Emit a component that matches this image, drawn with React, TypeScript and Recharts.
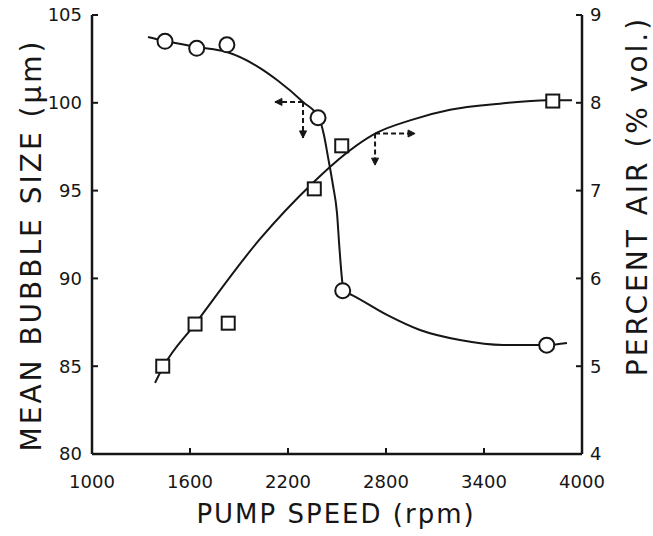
import React from 'react';
import {
  ComposedChart,
  Line,
  Scatter,
  XAxis,
  YAxis,
  ReferenceLine,
  ReferenceDot,
} from 'recharts';

// ---- tick labels ----
const speedTicks = [1000, 1600, 2200, 2800, 3400, 4000];
const topSpeedTicks = [1600, 3400];
const bubbleTicks = [80, 85, 90, 95, 100, 105];
const airTicks = [4, 5, 6, 7, 8, 9];

// ---- measured points ----
const bubbleSpeed = [1447, 1641, 1826, 2384, 2535, 3784];
const bubbleSize = [103.5, 103.1, 103.3, 99.15, 89.3, 86.2];

const airSpeed = [1433, 1631, 1834, 2361, 2529, 3821];
const airPercent = [5.0, 5.48, 5.49, 7.02, 7.51, 8.02];

// ---- hand-drawn fitted curves ----
const bubbleCurveSpeed = [1343, 1447, 1643, 1826, 2029, 2133, 2292, 2390, 2420, 2445, 2475, 2500, 2515, 2531, 2540, 2592, 2806, 3008, 3253, 3516, 3786, 3908];
const bubbleCurveSize = [103.75, 103.52, 103.18, 102.89, 101.98, 101.3, 100.05, 99.13, 98.17, 96.91, 95.32, 93.72, 91.73, 89.91, 89.28, 89.05, 87.92, 87.06, 86.49, 86.21, 86.21, 86.32];

const airCurveSpeed = [1386, 1435, 1631, 2029, 2353, 2469, 2745, 2947, 3192, 3498, 3786, 3939];
const airCurvePercent = [4.81, 4.99, 5.48, 6.45, 7.09, 7.29, 7.66, 7.8, 7.92, 7.99, 8.03, 8.03];

// ---- dashed guide arrows: [corner, end] ----
const bubbleGuideSpeed = [2292, 2120];
const bubbleGuideSize = [100.05, 98.0];
const airGuideSpeed = [2733, 2978];
const airGuidePercent = [7.65, 7.29];

const bubblePoints = bubbleSpeed.map((x, i) => ({ x, y: bubbleSize[i] }));
const airPoints = airSpeed.map((x, i) => ({ x, y: airPercent[i] }));
const bubbleCurve = bubbleCurveSpeed.map((x, i) => ({ x, y: bubbleCurveSize[i] }));
const airCurve = airCurveSpeed.map((x, i) => ({ x, y: airCurvePercent[i] }));

const INK = '#161616';
const FONT = 'DejaVu Sans';

const circleShape = (p: any) => (
  <circle cx={p.cx} cy={p.cy} r={7.5} fill="#fff" stroke={INK} strokeWidth={2} />
);
const squareShape = (p: any) => (
  <rect x={p.cx - 6.5} y={p.cy - 6.5} width={13} height={13} fill="#fff" stroke={INK} strokeWidth={2} />
);

const arrowHead = (dir: 'left' | 'right' | 'down') => (p: any) => {
  const { cx, cy } = p;
  let d = '';
  if (dir === 'left') d = `M${cx},${cy} L${cx + 7},${cy - 3.5} L${cx + 7},${cy + 3.5} Z`;
  if (dir === 'right') d = `M${cx},${cy} L${cx - 7},${cy - 3.5} L${cx - 7},${cy + 3.5} Z`;
  if (dir === 'down') d = `M${cx},${cy} L${cx - 3.5},${cy - 7} L${cx + 3.5},${cy - 7} Z`;
  return <path d={d} fill={INK} stroke={INK} strokeWidth={1} />;
};

const leftTitle = () => (
  <text
    x={31}
    y={245}
    transform="rotate(-90 31 245)"
    textAnchor="middle"
    dominantBaseline="central"
    fontFamily={FONT}
    fontSize={28}
    letterSpacing={3}
    fill={INK}
  >
    MEAN BUBBLE SIZE (μm)
  </text>
);

const rightTitle = () => (
  <text
    x={637}
    y={196}
    transform="rotate(-90 637 196)"
    textAnchor="middle"
    dominantBaseline="central"
    fontFamily={FONT}
    fontSize={28}
    letterSpacing={3}
    fill={INK}
  >
    PERCENT AIR (% vol.)
  </text>
);

const bottomTitle = () => (
  <text
    x={336}
    y={514}
    textAnchor="middle"
    dominantBaseline="central"
    fontFamily={FONT}
    fontSize={26}
    letterSpacing={2}
    fill={INK}
  >
    PUMP SPEED (rpm)
  </text>
);

const axisLine = { stroke: INK, strokeWidth: 2.5 };
const tickLine = { stroke: INK, strokeWidth: 2 };
const tickStyle = { fill: INK, fontSize: 18, fontFamily: FONT };

export default function App() {
  return (
    <div style={{ position: 'absolute', left: 0, top: 0, width: 653, height: 536, background: '#fff' }}>
      <ComposedChart width={653} height={536} margin={{ top: 15, right: 0, bottom: 0, left: 0 }}>
        <XAxis
          type="number"
          dataKey="x"
          domain={[1000, 4000]}
          ticks={speedTicks}
          height={82}
          tickSize={-6}
          tickMargin={27}
          axisLine={axisLine}
          tickLine={tickLine}
          tick={tickStyle}
          interval={0}
          label={{ value: 'PUMP SPEED (rpm)', content: bottomTitle }}
        />
        <XAxis
          xAxisId="top"
          orientation="top"
          type="number"
          dataKey="x"
          domain={[1000, 4000]}
          ticks={topSpeedTicks}
          height={0}
          tickSize={-6}
          axisLine={axisLine}
          tickLine={tickLine}
          tick={false}
        />
        <YAxis
          yAxisId="left"
          type="number"
          domain={[80, 105]}
          ticks={bubbleTicks}
          width={92}
          tickSize={-6}
          tickMargin={16}
          axisLine={axisLine}
          tickLine={tickLine}
          tick={tickStyle}
          interval={0}
          label={{ value: 'MEAN BUBBLE SIZE (μm)', content: leftTitle }}
        />
        <YAxis
          yAxisId="right"
          orientation="right"
          type="number"
          domain={[4, 9]}
          ticks={airTicks}
          width={71}
          tickSize={-6}
          tickMargin={14}
          axisLine={axisLine}
          tickLine={tickLine}
          tick={tickStyle}
          interval={0}
          label={{ value: 'PERCENT AIR (% vol.)', content: rightTitle }}
        />

        <Line
          data={bubbleCurve}
          dataKey="y"
          yAxisId="left"
          type="monotone"
          dot={false}
          activeDot={false}
          stroke={INK}
          strokeWidth={2}
          isAnimationActive={false}
        />
        <Line
          data={airCurve}
          dataKey="y"
          yAxisId="right"
          type="monotone"
          dot={false}
          activeDot={false}
          stroke={INK}
          strokeWidth={2}
          isAnimationActive={false}
        />

        <ReferenceLine
          yAxisId="left"
          segment={[{ x: bubbleGuideSpeed[0], y: bubbleGuideSize[0] }, { x: bubbleGuideSpeed[1], y: bubbleGuideSize[0] }]}
          stroke={INK}
          strokeWidth={2}
          strokeDasharray="5 3"
          ifOverflow="visible"
        />
        <ReferenceLine
          yAxisId="left"
          segment={[{ x: bubbleGuideSpeed[0], y: bubbleGuideSize[0] }, { x: bubbleGuideSpeed[0], y: bubbleGuideSize[1] }]}
          stroke={INK}
          strokeWidth={2}
          strokeDasharray="5 3"
          ifOverflow="visible"
        />
        <ReferenceDot yAxisId="left" x={bubbleGuideSpeed[1]} y={bubbleGuideSize[0]} shape={arrowHead('left')} ifOverflow="visible" />
        <ReferenceDot yAxisId="left" x={bubbleGuideSpeed[0]} y={bubbleGuideSize[1]} shape={arrowHead('down')} ifOverflow="visible" />

        <ReferenceLine
          yAxisId="right"
          segment={[{ x: airGuideSpeed[0], y: airGuidePercent[0] }, { x: airGuideSpeed[1], y: airGuidePercent[0] }]}
          stroke={INK}
          strokeWidth={2}
          strokeDasharray="5 3"
          ifOverflow="visible"
        />
        <ReferenceLine
          yAxisId="right"
          segment={[{ x: airGuideSpeed[0], y: airGuidePercent[0] }, { x: airGuideSpeed[0], y: airGuidePercent[1] }]}
          stroke={INK}
          strokeWidth={2}
          strokeDasharray="5 3"
          ifOverflow="visible"
        />
        <ReferenceDot yAxisId="right" x={airGuideSpeed[1]} y={airGuidePercent[0]} shape={arrowHead('right')} ifOverflow="visible" />
        <ReferenceDot yAxisId="right" x={airGuideSpeed[0]} y={airGuidePercent[1]} shape={arrowHead('down')} ifOverflow="visible" />

        <Scatter data={bubblePoints} dataKey="y" yAxisId="left" shape={circleShape} isAnimationActive={false} />
        <Scatter data={airPoints} dataKey="y" yAxisId="right" shape={squareShape} isAnimationActive={false} />
      </ComposedChart>
    </div>
  );
}
